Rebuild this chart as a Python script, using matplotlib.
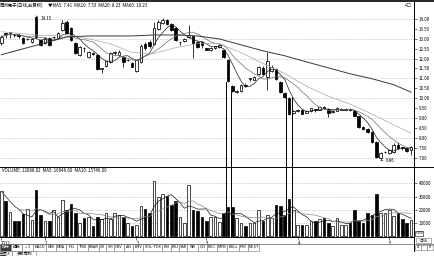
import numpy as np
import pandas as pd
import matplotlib
matplotlib.use('Agg')
import matplotlib.pyplot as plt
from matplotlib.patches import Rectangle
from matplotlib.lines import Line2D

plt.rcParams['font.family'] = ['Liberation Sans Narrow', 'Noto Sans CJK SC', 'DejaVu Sans']

W, H = 434, 256

# daily candles
open_ = np.array([12.80, 13.28, 13.30, 13.20, 13.20, 13.05, 12.98, 12.85, 14.10, 12.95,
                  12.80, 13.05, 13.08, 13.05, 13.45, 13.85, 13.55, 12.80, 12.20, 12.55,
                  12.10, 12.30, 12.20, 11.48, 11.60, 11.80, 12.30, 12.20, 12.10, 11.92,
                  11.78, 11.35, 11.80, 12.75, 12.85, 12.75, 13.50, 13.80, 13.95, 13.75,
                  13.55, 12.82, 12.90, 13.10, 13.15, 12.85, 12.82, 12.52, 12.45, 12.55,
                  12.60, 12.45, 11.95, 10.60, 10.32, 10.35, 10.68, 10.95, 10.93, 11.20,
                  11.50, 11.05, 11.35, 11.45, 10.80, 10.25, 10.00, 9.27, 9.35, 9.42,
                  9.27, 9.35, 9.43, 9.42, 9.55, 9.47, 9.30, 9.37, 9.42, 9.42,
                  9.43, 9.37, 9.10, 8.55, 8.45, 8.30, 7.80, 7.00, 7.28, 7.25,
                  7.30, 7.65, 7.52, 7.50, 7.40])
high = np.array([13.20, 13.30, 13.33, 13.25, 13.22, 13.10, 13.06, 13.05, 14.15, 13.00,
                 13.10, 13.10, 13.15, 13.35, 13.95, 13.95, 13.60, 12.85, 12.65, 12.56,
                 12.40, 12.35, 12.25, 11.52, 11.90, 12.35, 12.40, 12.45, 12.15, 12.00,
                 11.82, 11.95, 12.75, 12.85, 12.95, 13.85, 13.95, 14.05, 14.00, 13.80,
                 13.60, 12.85, 13.05, 13.70, 13.20, 12.90, 12.90, 12.55, 12.60, 12.65,
                 12.75, 12.50, 12.00, 10.65, 10.40, 10.70, 10.75, 11.02, 11.10, 11.60,
                 11.60, 12.34, 11.65, 11.50, 10.85, 10.30, 10.05, 9.40, 9.45, 9.45,
                 9.40, 9.50, 9.45, 9.60, 9.58, 9.50, 9.38, 9.55, 9.48, 9.48,
                 9.48, 9.40, 9.12, 8.58, 8.50, 8.35, 7.85, 7.30, 7.35, 7.45,
                 7.75, 7.80, 7.55, 7.55, 7.58])
low = np.array([12.70, 13.05, 13.05, 13.10, 13.05, 12.75, 12.92, 12.80, 13.05, 12.65,
                12.75, 12.65, 13.00, 13.00, 13.40, 13.25, 12.90, 12.25, 12.15, 12.35,
                12.05, 12.18, 11.40, 11.25, 11.55, 11.75, 12.20, 12.15, 11.58, 11.85,
                11.55, 11.30, 11.75, 12.45, 12.55, 12.70, 13.45, 13.75, 13.70, 13.40,
                12.90, 12.70, 12.85, 13.05, 12.04, 12.55, 12.55, 12.42, 12.40, 12.50,
                12.55, 12.05, 10.80, 10.30, 10.25, 10.30, 10.55, 10.85, 10.90, 11.15,
                11.15, 10.42, 11.30, 10.90, 10.25, 10.00, 9.15, 9.22, 9.30, 9.20,
                9.25, 9.30, 9.30, 9.40, 9.45, 9.06, 9.25, 9.35, 9.38, 9.38,
                9.36, 9.10, 8.50, 8.40, 8.25, 7.75, 7.00, 6.86, 7.22, 7.20,
                7.25, 7.45, 7.40, 7.30, 7.15])
close = np.array([13.10, 13.25, 13.32, 13.18, 13.15, 12.80, 13.00, 13.00, 13.10, 12.70,
                  13.05, 12.70, 13.10, 13.30, 13.80, 13.30, 12.95, 12.30, 12.60, 12.53,
                  12.35, 12.22, 11.45, 11.50, 11.85, 12.30, 12.33, 12.33, 11.80, 11.95,
                  11.58, 11.92, 12.65, 12.55, 12.65, 13.55, 13.85, 13.95, 13.75, 13.45,
                  12.95, 12.84, 12.98, 13.20, 12.80, 12.60, 12.70, 12.45, 12.55, 12.62,
                  12.70, 12.10, 10.85, 10.35, 10.35, 10.65, 10.62, 11.00, 11.05, 11.55,
                  11.20, 11.90, 11.58, 10.95, 10.30, 10.05, 9.20, 9.37, 9.38, 9.22,
                  9.37, 9.48, 9.40, 9.57, 9.48, 9.27, 9.33, 9.52, 9.44, 9.45,
                  9.40, 9.12, 8.55, 8.45, 8.30, 7.80, 7.05, 7.25, 7.30, 7.40,
                  7.65, 7.50, 7.48, 7.32, 7.55])
volume = np.array([34000, 26400, 18800, 12000, 11600, 16800, 20600, 12400, 35200, 15800,
                   11600, 11600, 19600, 15000, 27100, 20100, 24600, 18000, 10500, 13800,
                   14500, 8000, 14300, 13000, 18000, 13000, 18000, 16000, 14500, 10500,
                   8000, 8600, 23100, 20600, 17500, 41500, 29700, 32200, 30200, 23900,
                   26400, 15000, 10500, 38500, 20100, 19000, 15000, 11900, 15000, 15000,
                   10800, 17600, 22100, 22100, 13800, 10000, 8000, 10000, 10000, 19600,
                   12000, 16300, 14000, 23900, 23100, 16300, 28400, 20100, 8700, 8700,
                   8700, 11600, 12000, 13000, 13800, 10000, 8000, 13800, 8700, 8700,
                   10000, 20100, 11600, 10500, 17600, 16000, 32200, 17600, 17600, 19600,
                   15300, 18000, 13000, 10000, 12088])

# longer averages every 5 sessions
ma_idx = [0, 5, 10, 15, 20, 25, 30, 35, 40, 45, 50, 55, 60, 65, 70, 75, 80, 85, 90, 94]
ma20_vals = [13.35, 13.25, 13.15, 13.20, 13.00, 12.75, 12.30, 12.25, 12.55, 12.75,
             12.75, 12.30, 11.75, 11.25, 10.60, 10.10, 9.70, 9.20, 8.65, 8.23]
ma60_vals = [12.19, 12.49, 12.79, 13.09, 13.14, 13.14, 13.14, 13.19, 13.19, 13.14,
             12.99, 12.69, 12.39, 12.14, 11.83, 11.53, 11.23, 10.98, 10.68, 10.30]

month_idx = [0, 10, 31, 47, 68, 89]
month_lbl = ['2012', '1', '2', '3', '4', '5']

stock_name = '同洲电子(日线,前复权)'
ma_text = '▼MA5: 7.41  MA10: 7.53  MA20: 8.23  MA60: 10.23'
vol_text = 'VOLUME: 12088.02  MA5: 16046.60  MA10: 15746.00'
tabs = ['指标', '模板', '+ 1', 'MACD', 'DMI', 'DMA', 'FSL', 'TRIX', 'BRAR', 'CR', 'VR',
        'OBV', 'ASI', 'EMV', 'VOL-TDX', 'RSI', 'KDJ', 'SAR', 'WR', 'CCI', 'ROC', 'MTM',
        'BOLL', 'PSY', 'MCST']
tab_edges = [0, 11, 22, 33, 46, 56, 66, 77, 88, 99, 106, 114, 124, 133, 143, 162, 171,
             179, 187, 198, 207, 217, 227, 239, 248, 259]

FS = 3.2


def fbox(l, t, r, b):
    return [l / W, 1 - b / H, (r - l) / W, (b - t) / H]


def fx(x):
    return x / W


def fy(y):
    return 1 - y / H


fig = plt.figure(figsize=(W / 100, H / 100), dpi=100)
fig.patch.set_facecolor('white')

ax = fig.add_axes(fbox(0, 2, 414, 166.5))
axv = fig.add_axes(fbox(0, 166.5, 414, 237))

idx = np.arange(len(close))
up = close >= open_
xlim = (-0.3, 94.66)

# candles
ax.vlines(idx, low, high, color='black', lw=0.55, zorder=3)
bot = np.minimum(open_, close)
hgt = np.maximum(np.abs(close - open_), 0.012)
ax.bar(idx[up], hgt[up], 0.6, bottom=bot[up], color='white', edgecolor='black', lw=0.55, zorder=4)
ax.bar(idx[~up], hgt[~up], 0.6, bottom=bot[~up], color='black', edgecolor='black', lw=0.55, zorder=4)

cs = pd.Series(close)
ax.plot(idx, cs.rolling(5, min_periods=1).mean(), color='#1a1a1a', lw=0.5, zorder=5)
ax.plot(idx, cs.rolling(10, min_periods=1).mean(), color='#707070', lw=0.5, zorder=5)
ax.plot(ma_idx, ma20_vals, color='#a8a8a8', lw=0.5, zorder=5)
ax.plot(ma_idx, ma60_vals, color='#3a3a3a', lw=0.7, zorder=5)

ax.set_xlim(xlim)
ax.set_ylim(6.547, 14.855)
ax.hlines(np.arange(7, 15), xlim[0], xlim[1], color='#8c8c8c', lw=0.45,
          linestyles=(0, (1, 2)), zorder=1)
ax.yaxis.tick_right()
ax.set_yticks(np.arange(7, 14.01, 0.5))
ax.set_yticklabels(['%.2f' % v for v in np.arange(7, 14.01, 0.5)])
ax.tick_params(axis='y', labelsize=FS, length=2, width=0.4, pad=1.5, colors='black')
ax.set_xticks([])
for s in ['left', 'top']:
    ax.spines[s].set_visible(False)
ax.spines['right'].set_linewidth(0.7)
ax.spines['bottom'].set_linewidth(0.7)

ax.annotate('14.15', xy=(8, high[8]), xytext=(9.0, high[8] - 0.12), fontsize=FS,
            va='center', ha='left', arrowprops=dict(arrowstyle='-', lw=0.4, color='black'))
ax.annotate('6.86', xy=(87, low[87]), xytext=(88.2, low[87]), fontsize=FS,
            va='center', ha='left', arrowprops=dict(arrowstyle='-', lw=0.4, color='black'))

# volume
axv.bar(idx[up], volume[up], 0.6, color='white', edgecolor='black', lw=0.5, zorder=3)
axv.bar(idx[~up], volume[~up], 0.6, color='black', edgecolor='black', lw=0.5, zorder=3)
vs = pd.Series(volume, dtype=float)
axv.plot(idx, vs.rolling(5, min_periods=1).mean(), color='#1a1a1a', lw=0.5, zorder=4)
axv.plot(idx, vs.rolling(10, min_periods=1).mean(), color='#8a8a8a', lw=0.5, zorder=4)
axv.set_xlim(xlim)
axv.set_ylim(-380, 52650)
vt = [10000, 20000, 30000, 40000]
axv.hlines(vt, xlim[0], xlim[1], color='#8c8c8c', lw=0.45, linestyles=(0, (1, 2)), zorder=1)
axv.yaxis.tick_right()
axv.set_yticks(vt)
axv.set_yticklabels([str(v) for v in vt])
axv.tick_params(axis='y', labelsize=FS, length=2, width=0.4, pad=1.5)
axv.set_xticks(month_idx)
axv.set_xticklabels(month_lbl)
axv.tick_params(axis='x', labelsize=FS, length=2, width=0.4, pad=0.6, direction='out')
for lbl in axv.get_xticklabels():
    lbl.set_horizontalalignment('left')
for s in ['left', 'top']:
    axv.spines[s].set_visible(False)
axv.spines['right'].set_linewidth(0.7)
axv.spines['bottom'].set_linewidth(0.7)

# tall outline marks crossing both panels
for x, ytop in [(226, 82), (231, 92), (286, 97), (292, 97)]:
    fig.add_artist(Line2D([fx(x), fx(x)], [fy(ytop), fy(237)], color='black', lw=0.7))

# frame lines
fig.add_artist(Line2D([0, 1], [fy(0.7), fy(0.7)], color='black', lw=1.2))
fig.add_artist(Line2D([0, 1], [fy(166.5), fy(166.5)], color='black', lw=0.7))
fig.add_artist(Line2D([0, 1], [fy(244), fy(244)], color='#606060', lw=0.5))
fig.add_artist(Line2D([fx(414), fx(414)], [fy(237), fy(251)], color='black', lw=0.7))

# titles
fig.text(fx(0), fy(5.5), stock_name, fontsize=FS, va='center', ha='left')
fig.text(fx(48), fy(5.5), ma_text, fontsize=FS, va='center', ha='left')
fig.text(fx(2), fy(170), vol_text, fontsize=FS, va='center', ha='left')
fig.text(fx(405), fy(5), '⌂□', fontsize=FS, va='center', ha='left', family='DejaVu Sans')

# unit box in volume axis column
fig.add_artist(Rectangle((fx(415), fy(235.5)), 8 / W, 5 / H, fill=False, lw=0.4,
                         edgecolor='black'))
fig.text(fx(419), fy(233), '×100', fontsize=2.4, va='center', ha='center')

# tab bar
for i, t in enumerate(tabs):
    l, r = tab_edges[i], tab_edges[i + 1]
    dark = i == 0
    fig.add_artist(Rectangle((fx(l), fy(251)), (r - l) / W, 7 / H, lw=0.4,
                             edgecolor='#707070', facecolor='#3c3c3c' if dark else 'white'))
    fig.text(fx((l + r) / 2), fy(247.5), t, fontsize=2.8, va='center', ha='center',
             color='white' if dark else 'black')
fig.add_artist(Rectangle((fx(0), fy(257)), 12 / W, 6 / H, lw=0.4, edgecolor='#707070',
                         facecolor='white'))
fig.text(fx(6), fy(254), '主图入', fontsize=2.8, va='center', ha='center')
fig.add_artist(Rectangle((fx(12), fy(257)), 24 / W, 6 / H, lw=0.4, edgecolor='#707070',
                         facecolor='white'))
fig.text(fx(24), fy(254), '多股同列', fontsize=2.8, va='center', ha='center')

# right bottom controls
fig.add_artist(Rectangle((fx(416), fy(243)), 15 / W, 5 / H, lw=0.4, edgecolor='#707070',
                         facecolor='white'))
fig.text(fx(423.5), fy(240.5), '日线', fontsize=2.8, va='center', ha='center')
for k, t in enumerate(['4', '-', '0']):
    fig.add_artist(Rectangle((fx(415 + 6 * k), fy(250)), 6 / W, 5 / H, lw=0.4,
                             edgecolor='#707070', facecolor='white'))
    fig.text(fx(418 + 6 * k), fy(247.5), t, fontsize=2.8, va='center', ha='center')

fig.savefig('out.png', dpi=100, facecolor='white')
